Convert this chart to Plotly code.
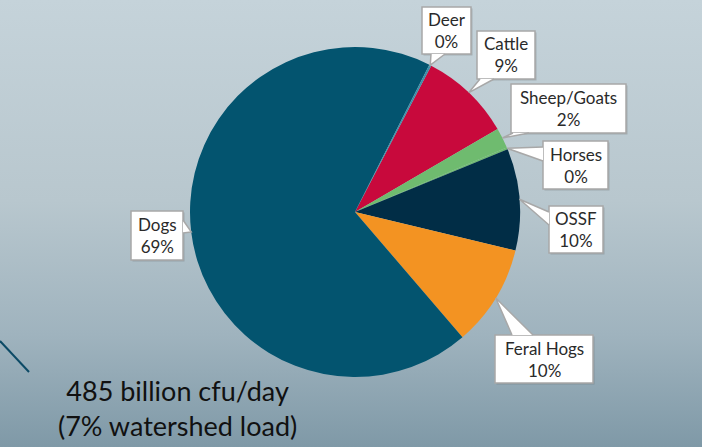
import base64, math
import plotly.graph_objects as go

# ---- data ----
categories = ["Cattle", "Sheep/Goats", "Horses", "OSSF", "Feral Hogs", "Dogs", "Deer"]
values = [9, 2, 0.2, 10, 10, 69, 0.2]
colors = ["#c8093c", "#6fbb6f", "#6fbb6f", "#012d46", "#f39322", "#03546f", "#3d8fa8"]
summary_lines = ["485 billion cfu/day", "(7% watershed load)"]

# ---- layout constants (pixels) ----
W, H = 702, 447
CX, CY, R = 355, 212, 165
ROTATION = 27.5
# label boxes: center x, center y, width, height, side of pointer, base offsets along side
boxes = {
    "Deer":        (446.5, 30.5, 49, 47, "bottom", 9, 23),
    "Cattle":      (506, 55, 58, 48, "bottom", 3, 17),
    "Sheep/Goats": (568.5, 108.5, 115, 49, "bottom", 2, 18),
    "Horses":      (575.5, 165, 65, 48, "left", 6, 20),
    "OSSF":        (576, 229.5, 54, 47, "left", 6, 19),
    "Feral Hogs":  (544, 359, 98, 48, "top", 17, 38),
    "Dogs":        (157, 235.5, 52, 49, "right", 9, 22),
}

def px(x):
    return x / W

def py(y):
    return 1 - y / H

# gradient background as svg image
svg = f'''<svg xmlns="http://www.w3.org/2000/svg" width="{W}" height="{H}" preserveAspectRatio="none">
<defs><linearGradient id="g" x1="0" y1="0" x2="0" y2="1">
<stop offset="0" stop-color="#c5d3da"/><stop offset="0.45" stop-color="#b8c7ce"/>
<stop offset="0.75" stop-color="#9fb3be"/><stop offset="1" stop-color="#7f99a7"/>
</linearGradient></defs><rect width="{W}" height="{H}" fill="url(#g)"/></svg>'''
svg_uri = "data:image/svg+xml;base64," + base64.b64encode(svg.encode()).decode()

fig = go.Figure()
fig.add_trace(go.Pie(
    labels=categories, values=values, sort=False, direction="clockwise",
    rotation=ROTATION, textinfo="none", hoverinfo="label+percent",
    marker=dict(colors=colors, line=dict(width=0)),
    domain=dict(x=[px(CX - R), px(CX + R)], y=[py(CY + R), py(CY - R)]),
    showlegend=False,
))

shapes = []
annotations = []
total = sum(values)
cum = 0.0
for cat, v in zip(categories, values):
    mid = ROTATION + (cum + v / 2) / total * 360
    cum += v
    a = math.radians(mid)
    tx, ty = CX + R * math.sin(a), CY - R * math.cos(a)
    bx, by, bw, bh, side, o1, o2 = boxes[cat]
    l, r_, t, b = bx - bw / 2, bx + bw / 2, by - bh / 2, by + bh / 2
    if side == "bottom":
        p1, p2 = (l + o1, b), (l + o2, b)
    elif side == "top":
        p1, p2 = (l + o1, t), (l + o2, t)
    elif side == "left":
        p1, p2 = (l, t + o1), (l, t + o2)
    else:
        p1, p2 = (r_, t + o1), (r_, t + o2)
    # shadow
    shapes.append(dict(type="rect", xref="paper", yref="paper",
                       x0=px(l + 1.5), x1=px(r_ + 1.5), y0=py(b + 1.5), y1=py(t + 1.5),
                       fillcolor="rgba(80,80,80,0.25)", line=dict(width=0)))
    shapes.append(dict(type="rect", xref="paper", yref="paper",
                       x0=px(l), x1=px(r_), y0=py(b), y1=py(t),
                       fillcolor="white", line=dict(color="#a8a8a8", width=1.5)))
    path = f"M {px(p1[0])} {py(p1[1])} L {px(tx)} {py(ty)} L {px(p2[0])} {py(p2[1])}"
    shapes.append(dict(type="path", xref="paper", yref="paper", path=path,
                       fillcolor="white", line=dict(color="#a8a8a8", width=1.5)))
    annotations.append(dict(x=px(bx), y=py(by), xref="paper", yref="paper",
                            text=f"{cat}<br>{v:.0f}%", showarrow=False,
                            font=dict(family="Lato", size=17, color="#2a2a2a"),
                            xanchor="center", yanchor="middle", align="center"))

# decorative diagonal line at lower left
shapes.append(dict(type="line", xref="paper", yref="paper",
                   x0=px(0), y0=py(341), x1=px(29), y1=py(372),
                   line=dict(color="#0c4a66", width=2)))

annotations.append(dict(x=px(177), y=py(408), xref="paper", yref="paper",
                        text="<br>".join(summary_lines), showarrow=False,
                        font=dict(family="Lato", size=27, color="#111111"),
                        xanchor="center", yanchor="middle", align="center"))

fig.update_layout(
    width=W, height=H, margin=dict(l=0, r=0, t=0, b=0),
    paper_bgcolor="#b8c7ce", plot_bgcolor="rgba(0,0,0,0)",
    images=[dict(source=svg_uri, xref="paper", yref="paper", x=0, y=1,
                 sizex=1, sizey=1, sizing="stretch", layer="below",
                 xanchor="left", yanchor="top")],
    shapes=shapes, annotations=annotations,
)
fig.write_html("out.html")
